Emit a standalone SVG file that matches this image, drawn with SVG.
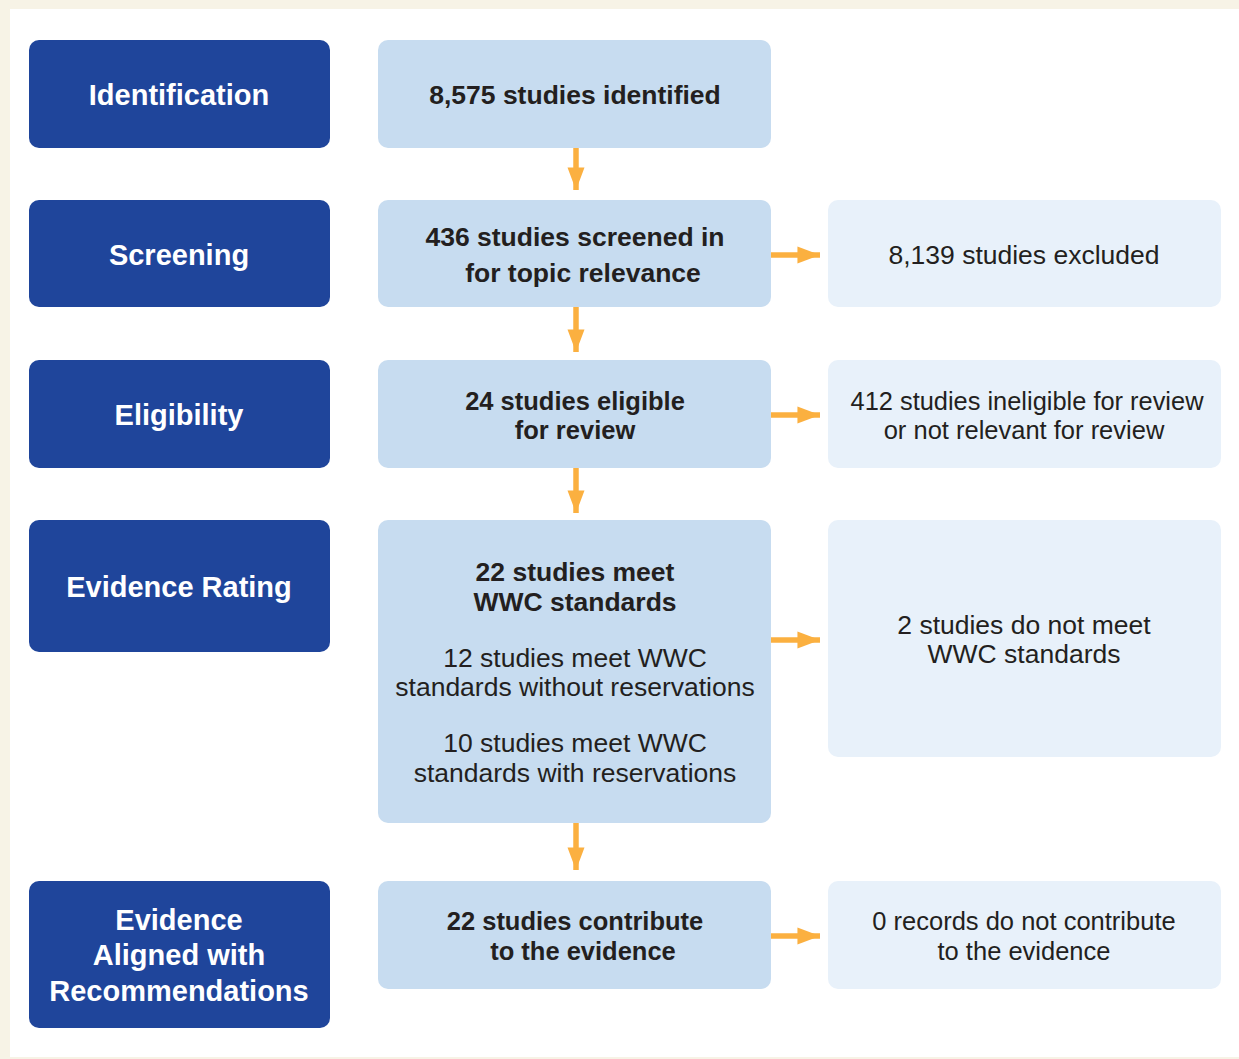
<svg xmlns="http://www.w3.org/2000/svg" width="1239" height="1059" viewBox="0 0 1239 1059">
<style>
.stage{fill:#1f459b}
.mid{fill:#c7dcf0}
.side{fill:#e8f1fa}
.st{font-family:"Liberation Sans",Arial,sans-serif;font-weight:bold;font-size:29px;fill:#fff;text-anchor:middle}
.mt{font-family:"Liberation Sans",Arial,sans-serif;font-weight:bold;font-size:26.5px;fill:#231f20;text-anchor:middle}
.rt{font-family:"Liberation Sans",Arial,sans-serif;font-size:26.5px;fill:#231f20;text-anchor:middle}
.c{font-size:25.5px}
.ar{stroke:#fbb040;stroke-width:5.5;fill:none}
</style>
<defs>
<marker id="ah" viewBox="0 0 10 10" refX="10" refY="5" markerWidth="4.1" markerHeight="3.1" preserveAspectRatio="none" markerUnits="strokeWidth" orient="auto">
<path d="M0,0 L10,5 L0,10 Z" fill="#fbb040"/>
</marker>
</defs>
<rect x="0" y="0" width="1239" height="1059" fill="#f7f3e6"/>
<rect x="10" y="9" width="1229" height="1048" fill="#fff"/>
<g id="stage-identification"><rect class="stage" x="29" y="40" width="301" height="108" rx="10"/><text class="st" x="179" y="105">Identification</text></g>
<g id="stage-screening"><rect class="stage" x="29" y="200" width="301" height="107" rx="10"/><text class="st" x="179" y="265">Screening</text></g>
<g id="stage-eligibility"><rect class="stage" x="29" y="360" width="301" height="108" rx="10"/><text class="st" x="179" y="425">Eligibility</text></g>
<g id="stage-rating"><rect class="stage" x="29" y="520" width="301" height="132" rx="10"/><text class="st" x="179" y="597">Evidence Rating</text></g>
<g id="stage-aligned"><rect class="stage" x="29" y="881" width="301" height="147" rx="10"/><text class="st" x="179" y="930">Evidence</text><text class="st" x="179" y="965">Aligned with</text><text class="st" x="179" y="1001">Recommendations</text></g>
<g id="n-identified"><rect class="mid" x="378" y="40" width="393" height="108" rx="10"/><text class="mt" x="575" y="104">8,575 studies identified</text></g>
<g id="n-screened"><rect class="mid" x="378" y="200" width="393" height="107" rx="10"/><text class="mt" x="575" y="246">436 studies screened in</text><text class="mt" x="583" y="282">for topic relevance</text></g>
<g id="n-eligible"><rect class="mid" x="378" y="360" width="393" height="108" rx="10"/><text class="mt c" x="575" y="410">24 studies eligible</text><text class="mt c" x="575" y="439">for review</text></g>
<g id="n-meet"><rect class="mid" x="378" y="520" width="393" height="303" rx="10"/><text class="mt" x="575" y="581">22 studies meet</text><text class="mt" x="575" y="611">WWC standards</text><text class="rt" x="575" y="667">12 studies meet WWC</text><text class="rt" x="575" y="696">standards without reservations</text><text class="rt" x="575" y="752">10 studies meet WWC</text><text class="rt" x="575" y="782">standards with reservations</text></g>
<g id="n-contribute"><rect class="mid" x="378" y="881" width="393" height="108" rx="10"/><text class="mt c" x="575" y="930">22 studies contribute</text><text class="mt c" x="583" y="960">to the evidence</text></g>
<g id="n-excluded"><rect class="side" x="828" y="200" width="393" height="107" rx="10"/><text class="rt" x="1024" y="264">8,139 studies excluded</text></g>
<g id="n-ineligible"><rect class="side" x="828" y="360" width="393" height="108" rx="10"/><text class="rt c" x="1027" y="410" textLength="353" lengthAdjust="spacingAndGlyphs">412 studies ineligible for review</text><text class="rt c" x="1024" y="439">or not relevant for review</text></g>
<g id="n-notmeet"><rect class="side" x="828" y="520" width="393" height="237" rx="10"/><text class="rt" x="1024" y="634">2 studies do not meet</text><text class="rt" x="1024" y="663">WWC standards</text></g>
<g id="n-notcontribute"><rect class="side" x="828" y="881" width="393" height="108" rx="10"/><text class="rt c" x="1024" y="930">0 records do not contribute</text><text class="rt c" x="1024" y="960">to the evidence</text></g>
<g id="connectors">
<line class="ar" x1="576" y1="148" x2="576" y2="190" marker-end="url(#ah)"/>
<line class="ar" x1="576" y1="307" x2="576" y2="352" marker-end="url(#ah)"/>
<line class="ar" x1="576" y1="468" x2="576" y2="513" marker-end="url(#ah)"/>
<line class="ar" x1="576" y1="823" x2="576" y2="870" marker-end="url(#ah)"/>
<line class="ar" x1="771" y1="255" x2="820" y2="255" marker-end="url(#ah)"/>
<line class="ar" x1="771" y1="415" x2="820" y2="415" marker-end="url(#ah)"/>
<line class="ar" x1="771" y1="640" x2="820" y2="640" marker-end="url(#ah)"/>
<line class="ar" x1="771" y1="936" x2="820" y2="936" marker-end="url(#ah)"/>
</g>
</svg>
